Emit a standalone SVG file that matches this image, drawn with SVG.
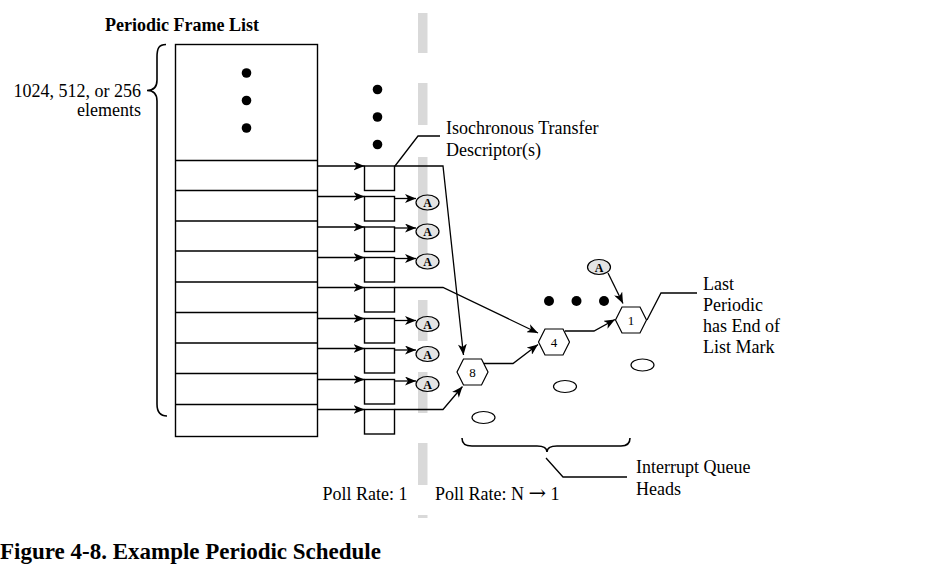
<svg xmlns="http://www.w3.org/2000/svg" width="943" height="581" viewBox="0 0 943 581">
<style>
text{font-family:"Liberation Serif","Times New Roman",serif;fill:#000}
.t{font-size:18px}
.b{font-weight:bold}
.ln{fill:none;stroke:#000;stroke-width:1.3}
.br{fill:none;stroke:#000;stroke-width:1.6}
.arr{fill:none;stroke:#000;stroke-width:1.3;marker-end:url(#ah)}
.box{fill:#fff;stroke:#000;stroke-width:1.4}
.hex{fill:#fff;stroke:#000;stroke-width:1.2}
.a{fill:#e4e4e4;stroke:#000;stroke-width:1.2}
.al{font-size:12px;font-weight:bold;text-anchor:middle}
.hl{font-size:13px;text-anchor:middle}
.gray{fill:#d9d9d9}
.dot{fill:#000}
.q{fill:#fff;stroke:#000;stroke-width:1.2}
</style>
<defs>
<marker id="ah" viewBox="0 0 11 9" refX="11" refY="4.5" markerWidth="11" markerHeight="9" markerUnits="userSpaceOnUse" orient="auto">
<path d="M0,0 L11,4.5 L0,9 L3,4.5 z" fill="#000"/>
</marker>
<polygon id="hx" points="-15.5,0 -9,-13 9,-13 15.5,0 9,13 -9,13"/>
</defs>
<rect width="943" height="581" fill="#fff"/>

<g id="poll-divider">
<rect class="gray" x="418" y="13" width="9.5" height="40"/>
<rect class="gray" x="418" y="83" width="9.5" height="42"/>
<rect class="gray" x="418" y="157" width="9.5" height="111"/>
<rect class="gray" x="418" y="300" width="9.5" height="41"/>
<rect class="gray" x="418" y="372" width="9.5" height="41"/>
<rect class="gray" x="418" y="443" width="9.5" height="42"/>
<rect class="gray" x="418" y="515" width="9.5" height="3"/>
</g>

<g id="frame-list">
<text class="t b" x="105" y="31">Periodic Frame List</text>
<rect class="box" x="175.5" y="44.5" width="142" height="392"/>
<path class="ln" d="M175.5,160.5H317.5M175.5,190.5H317.5M175.5,221H317.5M175.5,251H317.5M175.5,282H317.5M175.5,312.5H317.5M175.5,343H317.5M175.5,373.5H317.5M175.5,404.5H317.5"/>
<circle class="dot" cx="246.5" cy="73" r="4.8"/>
<circle class="dot" cx="246.5" cy="100.5" r="4.8"/>
<circle class="dot" cx="246.5" cy="128" r="4.8"/>
</g>

<g id="elements-brace">
<path class="br" d="M166,44.5 C159,44.5 157,48 157,57 L157,80 C157,87 153,90.5 147,90.5 C153,90.5 157,94 157,101 L157,404 C157,412 160,416 167,416"/>
<text class="t" x="141" y="97" text-anchor="end">1024, 512, or 256</text>
<text class="t" x="141" y="116" text-anchor="end">elements</text>
</g>

<g id="itd-column">
<circle class="dot" cx="377.5" cy="89.5" r="4.8"/>
<circle class="dot" cx="377.5" cy="117" r="4.8"/>
<circle class="dot" cx="377.5" cy="144.5" r="4.8"/>
<rect class="box" x="364.5" y="166" width="30" height="24.5"/>
<rect class="box" x="364.5" y="196.5" width="30" height="24.5"/>
<rect class="box" x="364.5" y="227" width="30" height="24.5"/>
<rect class="box" x="364.5" y="257.5" width="30" height="24.5"/>
<rect class="box" x="364.5" y="287.5" width="30" height="24.5"/>
<rect class="box" x="364.5" y="318.5" width="30" height="24.5"/>
<rect class="box" x="364.5" y="348.5" width="30" height="24.5"/>
<rect class="box" x="364.5" y="379.5" width="30" height="24.5"/>
<rect class="box" x="364.5" y="409.5" width="30" height="24.5"/>
<text class="t" x="446" y="134">Isochronous Transfer</text>
<text class="t" x="446" y="156">Descriptor(s)</text>
</g>

<g id="a-nodes">
<ellipse class="a" cx="427.5" cy="202.5" rx="11.5" ry="7.5"/><text class="al" x="427.5" y="207">A</text>
<ellipse class="a" cx="427.5" cy="231.5" rx="11.5" ry="7.5"/><text class="al" x="427.5" y="236">A</text>
<ellipse class="a" cx="427.5" cy="261.5" rx="11.5" ry="7.5"/><text class="al" x="427.5" y="266">A</text>
<ellipse class="a" cx="427.5" cy="324" rx="11.5" ry="7.5"/><text class="al" x="427.5" y="328.5">A</text>
<ellipse class="a" cx="427.5" cy="354" rx="11.5" ry="7.5"/><text class="al" x="427.5" y="358.5">A</text>
<ellipse class="a" cx="427.5" cy="384" rx="11.5" ry="7.5"/><text class="al" x="427.5" y="388.5">A</text>
<ellipse class="a" cx="599" cy="267" rx="11.5" ry="7.5"/><text class="al" x="599" y="271.5">A</text>
</g>

<g id="qh-8"><use href="#hx" class="hex" x="472.5" y="372"/><text class="hl" x="472.5" y="376.5">8</text></g>
<g id="qh-4"><use href="#hx" class="hex" x="554" y="342"/><text class="hl" x="554" y="346.5">4</text></g>
<g id="qh-1"><use href="#hx" class="hex" x="631" y="320"/><text class="hl" x="631" y="324.5">1</text></g>

<g id="queue-heads">
<circle class="dot" cx="549" cy="301" r="5"/>
<circle class="dot" cx="576.5" cy="301" r="5"/>
<circle class="dot" cx="604" cy="301" r="5"/>
<ellipse class="q" cx="483.5" cy="417.5" rx="11.5" ry="6"/>
<ellipse class="q" cx="565" cy="386.5" rx="11.5" ry="6"/>
<ellipse class="q" cx="642.5" cy="365" rx="11.5" ry="6"/>
<path class="br" d="M462,438 C462,444 465,446 472,446 L537,446 C543,446 547,448 547,452 C547,448 551,446 557,446 L621,446 C627,446 630,444 630,438"/>
<text class="t" x="636" y="473">Interrupt Queue</text>
<text class="t" x="636" y="495">Heads</text>
</g>

<g id="last-label">
<text class="t" x="703" y="290">Last</text>
<text class="t" x="703" y="311">Periodic</text>
<text class="t" x="703" y="332">has End of</text>
<text class="t" x="703" y="353">List Mark</text>
</g>

<g id="connectors">
<path class="arr" d="M317.5,166H364.5"/>
<path class="arr" d="M317.5,196.5H364.5"/>
<path class="arr" d="M317.5,227H364.5"/>
<path class="arr" d="M317.5,257.5H364.5"/>
<path class="arr" d="M317.5,287.5H364.5"/>
<path class="arr" d="M317.5,318.5H364.5"/>
<path class="arr" d="M317.5,348.5H364.5"/>
<path class="arr" d="M317.5,379.5H364.5"/>
<path class="arr" d="M317.5,409.5H364.5"/>
<path class="arr" d="M394.5,198.5H416"/>
<path class="arr" d="M394.5,228H416"/>
<path class="arr" d="M394.5,258.5H416"/>
<path class="arr" d="M394.5,320.5H416"/>
<path class="arr" d="M394.5,350H416"/>
<path class="arr" d="M394.5,381H416"/>
<path class="arr" d="M394.5,166H443L463.5,355"/>
<path class="arr" d="M394.5,287.5H443L538,333"/>
<path class="arr" d="M394.5,409.5H443L462.5,386.5"/>
<path class="arr" d="M484,363.5H513L538,344.5"/>
<path class="arr" d="M565,331H594L615,319.5"/>
<path class="arr" d="M608,273L623,303.5"/>
<path class="ln" d="M647,320L661,293H697"/>
<path class="ln" d="M395,166L418,136H440"/>
<path class="ln" d="M546,458L563,477H627"/>
</g>

<g id="poll-rates">
<text class="t" x="322.5" y="500">Poll Rate: 1</text>
<text class="t" x="435" y="500">Poll Rate: N <tspan font-family="DejaVu Serif, serif" font-size="21">→</tspan> 1</text>
</g>

<text class="b" x="0" y="559" font-size="23">Figure 4-8. Example Periodic Schedule</text>
</svg>
